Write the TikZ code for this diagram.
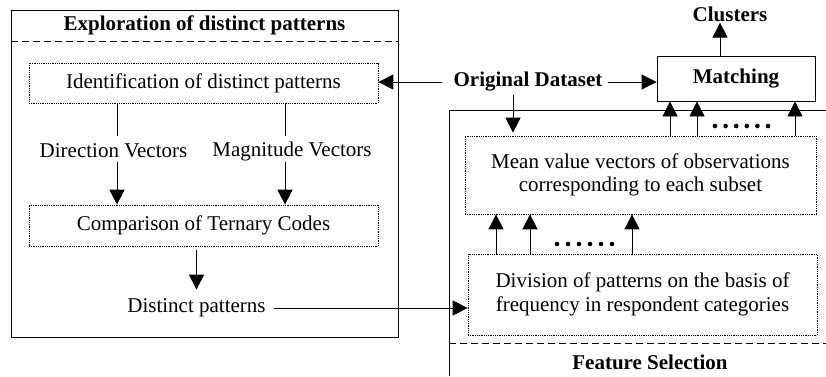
\documentclass[tikz,border=0pt]{standalone}
\usepackage{fontspec}
\setmainfont{Liberation Serif}
\usetikzlibrary{arrows.meta}
\begin{document}
\begin{tikzpicture}[x=1pt,y=-1pt,
  font=\fontsize{21}{23.5}\selectfont,
  solidbox/.style={draw, line width=0.9pt, inner sep=0pt, rectangle},
  dotbox/.style={draw, line width=0.7pt, dash pattern=on 0.9pt off 0.9pt, inner sep=0pt, rectangle, align=center},
  lbl/.style={inner sep=1pt},
  bold/.style={inner sep=1pt, font=\fontsize{21}{23.5}\selectfont\bfseries},
  arr/.style={line width=0.9pt, -{Triangle[width=15pt,length=15pt]}},
  ln/.style={line width=0.9pt},
  dashln/.style={line width=0.9pt, dash pattern=on 7pt off 4pt}]
\useasboundingbox (0,0) rectangle (826,376);

% ---------- left: exploration box ----------
\node[solidbox, minimum width=387pt, minimum height=327pt] (explbox) at (204.5,173.5) {};
\node[bold] (expltitle) at (204.5,25) {Exploration of distinct patterns};
\coordinate (exdashL) at (11,41);
\coordinate (exdashR) at (398,41);
\draw[dashln] (exdashL) -- (exdashR);

\node[dotbox, minimum width=349pt, minimum height=40pt] (ident) at (203.5,83) {Identification of distinct patterns};
\node[lbl] (dirv) at (113.5,151) {Direction Vectors};
\node[lbl] (magv) at (292,151) {Magnitude Vectors};
\node[dotbox, minimum width=349pt, minimum height=41pt] (compare) at (203.5,225.5) {Comparison of Ternary Codes};
\node[lbl] (distinct) at (196.5,308) {Distinct patterns};

\coordinate (dirtop) at (117,136);
\coordinate (magtop) at (285,136);
\coordinate (dirbot) at (117,162);
\coordinate (magbot) at (285,162);
\draw[ln] (ident.south -| dirtop) -- (dirtop);
\draw[ln] (ident.south -| magtop) -- (magtop);
\draw[arr] (dirbot) -- (dirbot |- compare.north);
\draw[arr] (magbot) -- (magbot |- compare.north);
\draw[arr, shorten <=4pt, shorten >=8pt] (compare.south -| distinct) -- (distinct.north);

% ---------- top right ----------
\node[bold] (orig) at (528,82) {Original Dataset};
\node[solidbox, minimum width=158pt, minimum height=45pt, font=\fontsize{21}{23.5}\selectfont\bfseries] (match) at (736,78.5) {Matching};
\node[bold] (clus) at (730,14) {Clusters};

\draw[arr, shorten <=10pt] (orig.west) -- (orig.west -| ident.east);
\draw[arr, shorten <=4pt] (orig.east) -- (orig.east -| match.west);
\draw[arr] ([xshift=-16pt]match.north) -- ([xshift=-16pt]match.north |- clus.south);

% ---------- feature selection frame ----------
\coordinate (fsTR) at (826,110);
\coordinate (fsTL) at (449,110);
\coordinate (fsBL) at (449,376);
\coordinate (fsdashL) at (449,343);
\coordinate (fsdashR) at (826,343);
\draw[ln] (fsTR) -- (fsTL) -- (fsBL);
\draw[dashln] (fsdashL) -- (fsdashR);
\node[bold] (fstitle) at (650,362) {Feature Selection};

\node[dotbox, minimum width=351pt, minimum height=78pt] (mean) at (640.5,175) {Mean value vectors of observations\\corresponding to each subset};
\node[dotbox, minimum width=349pt, minimum height=81pt] (div) at (642.5,294.5) {Division of patterns on the basis of\\frequency in respondent categories};

\draw[arr, shorten <=2.5pt, shorten >=3pt] ([xshift=-15pt]orig.south) -- ([xshift=-15pt]orig.south |- mean.north);
\draw[arr, shorten <=7pt] (distinct.east) -- (distinct.east -| div.west);

\foreach \dx in {29.5,56.5,154.5}
  \draw[arr] ([xshift=\dx pt]mean.north) -- ([xshift=\dx pt]mean.north |- match.south);
\foreach \dx in {-146.5,-112.5,-10.5}
  \draw[arr] ([xshift=\dx pt]div.north) -- ([xshift=\dx pt]div.north |- mean.south);

\foreach \i in {0,...,5} {
  \fill (715+\i*10.6,126) circle (2.3pt);
  \fill (557+\i*11,244) circle (2.3pt);
}
\end{tikzpicture}
\end{document}
